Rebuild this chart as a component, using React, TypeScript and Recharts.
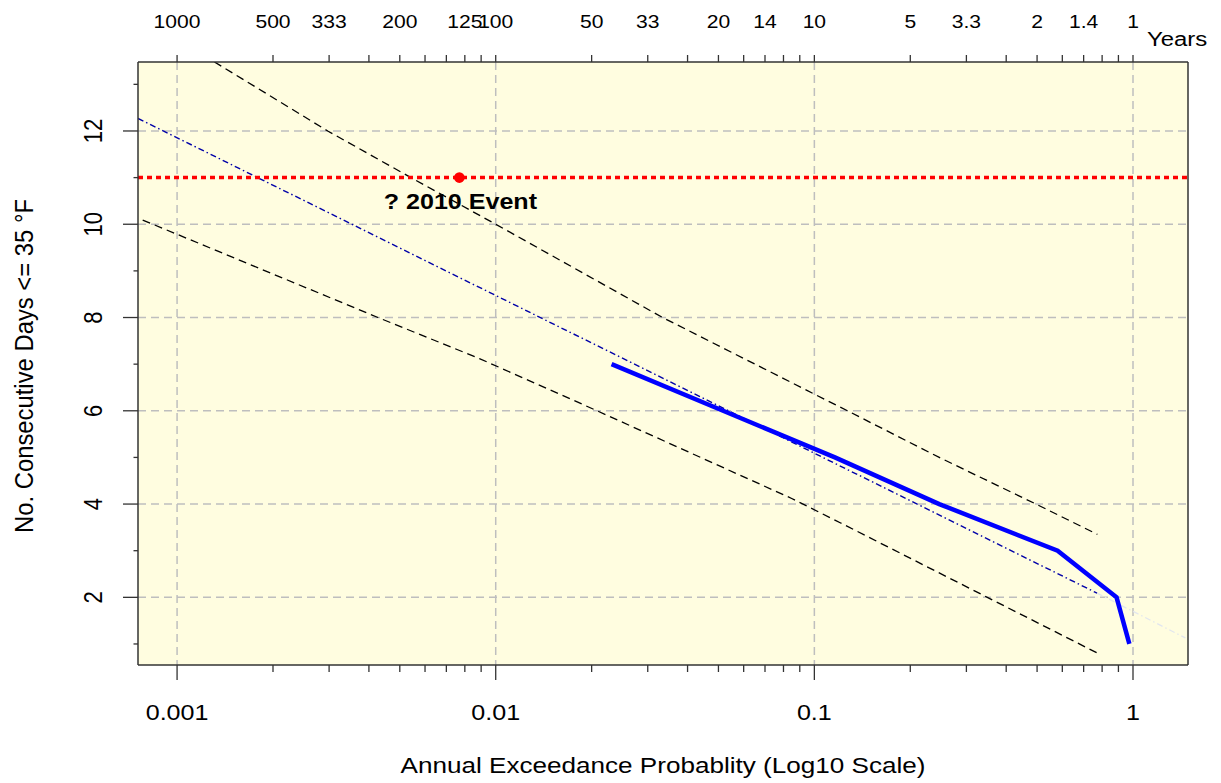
import React from 'react';
import {
  ComposedChart,
  Line,
  XAxis,
  YAxis,
  CartesianGrid,
  ReferenceLine,
  ReferenceDot,
} from 'recharts';

// ---------------- data ----------------
// Observed (empirical) frequency curve
const obsProb = [0.0231, 0.0517, 0.116, 0.2466, 0.58, 0.888, 0.974];
const obsDays = [7, 6, 5, 4, 3, 2, 1];

// Fitted line (dash-dot) and its faint continuation
const fitProb = [0.000754, 0.771];
const fitDays = [12.27, 2.09];
const fitTailProb = [0.771, 1.46];
const fitTailDays = [2.09, 1.13];

// Upper / lower confidence bands (dashed)
const upperProb = [0.00131, 0.00297, 0.00542, 0.01, 0.0334, 0.127, 0.2466, 0.496, 0.773];
const upperDays = [13.48, 12, 11, 10, 8, 6, 5, 4, 3.35];
const lowerProb = [0.00078, 0.00427, 0.00889, 0.0208, 0.0849, 0.1205, 0.349, 0.773];
const lowerDays = [10.09, 8, 7.12, 6, 4.12, 3.6, 2, 0.805];

// 2010 event
const eventProb = 0.00769;
const eventDays = 11;
const eventLabel = '? 2010 Event';

// axes
const probDomain = [0.000754, 1.488];
const daysDomain = [0.549, 13.479];
const probTicks = [
  0.001, 0.002, 0.003, 0.004, 0.005, 0.006, 0.007, 0.008, 0.009,
  0.01, 0.02, 0.03, 0.04, 0.05, 0.06, 0.07, 0.08, 0.09,
  0.1, 0.2, 0.3, 0.4, 0.5, 0.6, 0.7, 0.8, 0.9,
  1,
];
const bottomLabelProbs = [0.001, 0.01, 0.1, 1];
const bottomLabelTexts = ['0.001', '0.01', '0.1', '1'];
const topLabelProbs = [0.001, 0.002, 0.003, 0.005, 0.008, 0.01, 0.02, 0.03, 0.05, 0.07, 0.1, 0.2, 0.3, 0.5, 0.7, 1];
const topLabelTexts = ['1000', '500', '333', '200', '125', '100', '50', '33', '20', '14', '10', '5', '3.3', '2', '1.4', '1'];
const dayTicks = [1, 2, 3, 4, 5, 6, 7, 8, 9, 10, 11, 12, 13];
const dayLabelTicks = [2, 4, 6, 8, 10, 12];
const gridProbs = [0.001, 0.01, 0.1, 1];
const gridDays = [2, 4, 6, 8, 10, 12];

const xTitle = 'Annual Exceedance Probablity (Log10 Scale)';
const yTitle = 'No. Consecutive Days <= 35 °F';
const topTitle = 'Years';

// ---------------- helpers ----------------
const zip = (ps: number[], ds: number[]) => ps.map((p, i) => ({ p, y: ds[i] }));
const obsData = zip(obsProb, obsDays);
const fitData = zip(fitProb, fitDays);
const fitTailData = zip(fitTailProb, fitTailDays);
const upperData = zip(upperProb, upperDays);
const lowerData = zip(lowerProb, lowerDays);

const near = (a: number, b: number) => Math.abs(a - b) <= 1e-6 * Math.max(Math.abs(a), Math.abs(b));
const FONT = '"Liberation Sans", Arial, Helvetica, sans-serif';
const SX = 1.14; // horizontal stretch of the reference picture
const AXIS_COLOR = '#333';
const TEXT_COLOR = '#000';

const W = 1221;
const H = 783;

function BottomTick(props: any) {
  const { x, y, payload } = props;
  const idx = bottomLabelProbs.findIndex((t) => near(t, payload.value));
  const major = idx >= 0;
  return (
    <g>
      <line x1={x} x2={x} y1={y} y2={y + (major ? 15 : 7)} stroke={AXIS_COLOR} strokeWidth={1.3} />
      {major && (
        <text
          transform={`translate(${x},${y + 54.5}) scale(${SX},1)`}
          textAnchor="middle"
          fontSize={22}
          fontFamily={FONT}
          fill={TEXT_COLOR}
        >
          {bottomLabelTexts[idx]}
        </text>
      )}
    </g>
  );
}

function TopTick(props: any) {
  const { x, y, payload } = props;
  const idx = topLabelProbs.findIndex((t) => near(t, payload.value));
  return (
    <g>
      <line x1={x} x2={x} y1={y - 7} y2={y} stroke={AXIS_COLOR} strokeWidth={1.3} />
      {idx >= 0 && (
        <text
          transform={`translate(${x},${y - 34.5}) scale(${SX},1)`}
          textAnchor="middle"
          fontSize={18.5}
          fontFamily={FONT}
          fill={TEXT_COLOR}
        >
          {topLabelTexts[idx]}
        </text>
      )}
    </g>
  );
}

function LeftTick(props: any) {
  const { x, y, payload } = props;
  const idx = dayLabelTicks.findIndex((t) => near(t, payload.value));
  const major = idx >= 0;
  return (
    <g>
      <line x1={x - (major ? 15 : 4.5)} x2={x} y1={y} y2={y} stroke={AXIS_COLOR} strokeWidth={1.3} />
      {major && (
        <text
          transform={`translate(${x - 36.5},${y}) scale(${SX},1) rotate(-90)`}
          textAnchor="middle"
          fontSize={22}
          fontFamily={FONT}
          fill={TEXT_COLOR}
        >
          {String(dayLabelTicks[idx])}
        </text>
      )}
    </g>
  );
}

const XTitle = (props: any) => {
  const vb = props.viewBox || { x: 138, y: 665, width: 1050, height: 118 };
  return (
    <text
      x={vb.x + vb.width / 2}
      y={vb.y + 108.3}
      textAnchor="middle"
      fontSize={22}
      fontFamily={FONT}
      fill={TEXT_COLOR}
      textLength={525}
      lengthAdjust="spacingAndGlyphs"
    >
      {xTitle}
    </text>
  );
};

const TopTitle = (props: any) => {
  const vb = props.viewBox || { x: 138, y: 0, width: 1050, height: 62 };
  return (
    <text
      transform={`translate(${vb.x + vb.width - 41},${vb.y + 46}) scale(${SX},1)`}
      textAnchor="start"
      fontSize={21}
      fontFamily={FONT}
      fill={TEXT_COLOR}
    >
      {topTitle}
    </text>
  );
};

const YTitle = (props: any) => {
  const vb = props.viewBox || { x: 0, y: 62, width: 138, height: 603 };
  const cy = vb.y + vb.height / 2 + 2.5;
  return (
    <text
      transform={`translate(${vb.x + 33.3},${cy}) scale(${SX},1) rotate(-90)`}
      textAnchor="middle"
      fontSize={22}
      fontFamily={FONT}
      fill={TEXT_COLOR}
      textLength={334}
      lengthAdjust="spacingAndGlyphs"
    >
      {yTitle}
    </text>
  );
};

const EventLabel = (props: any) => {
  const vb = props.viewBox;
  if (!vb) return null;
  const cx = vb.x + (vb.width || 0) / 2;
  const cy = vb.y + (vb.height || 0) / 2;
  return (
    <text
      transform={`translate(${cx + 1},${cy + 31.3}) scale(${SX},1)`}
      textAnchor="middle"
      fontSize={22}
      fontWeight="bold"
      fontFamily={FONT}
      fill={TEXT_COLOR}
    >
      {eventLabel}
    </text>
  );
};

export default function App() {
  return (
    <div style={{ position: 'absolute', left: 0, top: 0, width: W, height: H, background: '#fff' }}>
      <ComposedChart width={W} height={H} margin={{ top: 0, right: 32, bottom: 0, left: 0 }}>
        <CartesianGrid
          xAxisId="bottom"
          yAxisId="left"
          verticalValues={gridProbs}
          horizontalValues={gridDays}
          stroke="#BEBEBE"
          strokeWidth={1.5}
          strokeDasharray="8 5"
          fill="#FFFDE0"
          fillOpacity={1}
        />
        <XAxis
          xAxisId="bottom"
          orientation="bottom"
          dataKey="p"
          type="number"
          scale="log"
          domain={probDomain}
          allowDataOverflow
          ticks={probTicks}
          interval={0}
          tickSize={0}
          tickMargin={0}
          height={118}
          tickLine={false}
          axisLine={{ stroke: AXIS_COLOR, strokeWidth: 1.5 }}
          tick={<BottomTick />}
          label={{ content: XTitle }}
        />
        <XAxis
          xAxisId="top"
          orientation="top"
          dataKey="p"
          type="number"
          scale="log"
          domain={probDomain}
          allowDataOverflow
          ticks={probTicks}
          interval={0}
          tickSize={0}
          tickMargin={0}
          height={62}
          tickLine={false}
          axisLine={{ stroke: AXIS_COLOR, strokeWidth: 1.5 }}
          tick={<TopTick />}
          label={{ content: TopTitle }}
        />
        <YAxis
          yAxisId="left"
          orientation="left"
          type="number"
          domain={daysDomain}
          allowDataOverflow
          ticks={dayTicks}
          interval={0}
          tickSize={0}
          tickMargin={0}
          width={138}
          tickLine={false}
          axisLine={{ stroke: AXIS_COLOR, strokeWidth: 1.5 }}
          tick={<LeftTick />}
          label={{ content: YTitle }}
        />
        <YAxis
          yAxisId="right"
          orientation="right"
          type="number"
          domain={daysDomain}
          allowDataOverflow
          width={1}
          tick={false}
          tickLine={false}
          axisLine={{ stroke: AXIS_COLOR, strokeWidth: 1.5 }}
        />
        <Line
          xAxisId="bottom"
          yAxisId="left"
          data={fitTailData}
          dataKey="y"
          type="linear"
          stroke="#E2E6EE"
          strokeWidth={1.3}
          strokeDasharray="6 3 1.5 3"
          dot={false}
          activeDot={false}
          isAnimationActive={false}
        />
        <Line
          xAxisId="bottom"
          yAxisId="left"
          data={upperData}
          dataKey="y"
          type="linear"
          stroke="#000"
          strokeWidth={1.3}
          strokeDasharray="8 5"
          dot={false}
          activeDot={false}
          isAnimationActive={false}
        />
        <Line
          xAxisId="bottom"
          yAxisId="left"
          data={lowerData}
          dataKey="y"
          type="linear"
          stroke="#000"
          strokeWidth={1.3}
          strokeDasharray="8 5"
          dot={false}
          activeDot={false}
          isAnimationActive={false}
        />
        <Line
          xAxisId="bottom"
          yAxisId="left"
          data={fitData}
          dataKey="y"
          type="linear"
          stroke="#0000A8"
          strokeWidth={1.4}
          strokeDasharray="6 3 1.5 3"
          dot={false}
          activeDot={false}
          isAnimationActive={false}
        />
        <Line
          xAxisId="bottom"
          yAxisId="left"
          data={obsData}
          dataKey="y"
          type="linear"
          stroke="#0000FF"
          strokeWidth={4.5}
          strokeLinejoin="miter"
          dot={false}
          activeDot={false}
          isAnimationActive={false}
        />
        <ReferenceLine
          xAxisId="bottom"
          yAxisId="left"
          y={eventDays}
          stroke="#FF0000"
          strokeWidth={3.5}
          strokeDasharray="5 4"
        />
        <ReferenceDot
          xAxisId="bottom"
          yAxisId="left"
          x={eventProb}
          y={eventDays}
          r={5.3}
          fill="#FF0000"
          stroke="#FF0000"
          strokeWidth={0}
          label={{ content: EventLabel }}
        />
      </ComposedChart>
    </div>
  );
}
